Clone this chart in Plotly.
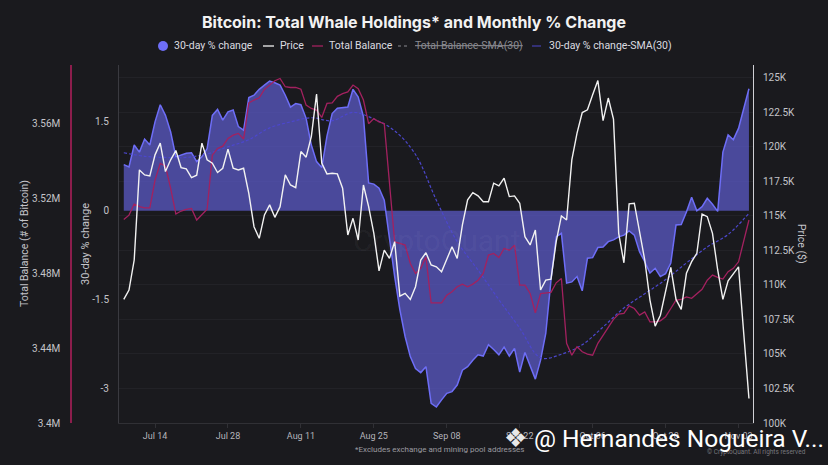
import pandas as pd
import plotly.graph_objects as go

# daily observations, Jul 08 -> Nov 05 2025
dates = pd.date_range("2025-07-08", periods=121, freq="D")
sma_dates = pd.date_range("2025-07-08", periods=31, freq="4D")

pct_change = [
    0.78, 0.74, 1.11, 0.99, 1.21, 1.11, 1.50, 1.79, 1.61, 1.33,
    0.91, 0.94, 0.97, 0.98, 0.83, 0.91, 1.05, 1.61, 1.71, 1.53,
    1.67, 1.70, 1.42, 1.36, 1.91, 1.95, 2.05, 2.12, 2.19, 2.16,
    2.12, 1.95, 1.75, 1.81, 1.79, 1.56, 1.11, 0.83, 0.73, 1.26,
    1.64, 1.73, 1.74, 1.75, 2.05, 1.92, 1.59, 0.47, 0.45, 0.38,
    0.18, -0.49, -1.11, -1.67, -2.12, -2.46, -2.66, -2.73, -2.63, -3.25,
    -3.31, -3.19, -3.08, -3.05, -2.94, -2.69, -2.63, -2.52, -2.43, -2.45,
    -2.26, -2.34, -2.43, -2.30, -2.45, -2.32, -2.72, -2.39, -2.60, -2.84,
    -2.52, -2.07, -1.17, -0.44, -0.38, -1.22, -1.20, -1.11, -1.35, -0.80,
    -0.79, -0.62, -0.61, -0.52, -0.49, -0.44, -0.41, -0.34, -0.41, -0.69,
    -0.86, -1.05, -0.97, -1.11, -1.06, -0.88, -0.24, -0.23, -0.02, 0.23,
    0.00, 0.07, 0.21, 0.11, -0.01, 0.99, 1.28, 1.20, 1.39, 1.71,
    2.06,
]

price_k = [
    108.94, 109.62, 111.79, 118.31, 117.95, 117.88, 119.40, 120.25, 118.19, 119.04,
    119.71, 118.48, 118.38, 117.75, 117.93, 120.25, 119.04, 118.80, 118.12, 118.43,
    119.81, 118.43, 118.31, 118.43, 116.62, 114.20, 113.36, 115.05, 115.78, 114.88,
    115.65, 117.95, 117.22, 117.03, 119.64, 119.23, 120.72, 123.80, 118.80, 118.02,
    118.07, 118.02, 116.99, 113.60, 114.81, 113.24, 117.22, 115.65, 113.72, 111.01,
    112.51, 111.91, 113.12, 109.18, 109.38, 108.94, 109.86, 111.79, 112.32, 111.43,
    111.30, 110.94, 111.84, 112.75, 111.91, 114.33, 116.14, 116.67, 116.43, 116.01,
    116.01, 117.35, 117.15, 117.71, 116.38, 116.43, 115.90, 113.48, 112.88, 113.96,
    109.62, 110.34, 110.41, 113.12, 114.98, 114.69, 119.04, 120.97, 122.46, 122.66,
    123.75, 124.78, 121.88, 123.51, 121.98, 113.72, 111.59, 115.85, 115.90, 113.72,
    111.79, 108.89, 107.01, 107.80, 109.49, 111.26, 108.94, 108.22, 110.83, 111.67,
    112.28, 115.12, 114.93, 113.72, 111.07, 108.94, 110.29, 110.83, 111.30, 106.48,
    101.77,
]

balance_m = [
    3.5086, 3.5109, 3.5168, 3.5154, 3.5148, 3.5148, 3.5296, 3.5385, 3.5371, 3.5252,
    3.5115, 3.5131, 3.5140, 3.5145, 3.5083, 3.5109, 3.5140, 3.5429, 3.5465, 3.5477,
    3.5518, 3.5536, 3.5545, 3.5515, 3.5708, 3.5723, 3.5735, 3.5780, 3.5803, 3.5826,
    3.5838, 3.5794, 3.5790, 3.5790, 3.5781, 3.5696, 3.5678, 3.5669, 3.5630, 3.5705,
    3.5708, 3.5743, 3.5757, 3.5766, 3.5803, 3.5784, 3.5723, 3.5597, 3.5624, 3.5606,
    3.5597, 3.5296, 3.4966, 3.4958, 3.4949, 3.4851, 3.4798, 3.4825, 3.4886, 3.4641,
    3.4641, 3.4641, 3.4682, 3.4700, 3.4727, 3.4741, 3.4727, 3.4741, 3.4762, 3.4798,
    3.4896, 3.4905, 3.4883, 3.4931, 3.4922, 3.4949, 3.4736, 3.4736, 3.4691, 3.4588,
    3.4691, 3.4695, 3.4697, 3.4748, 3.4771, 3.4425, 3.4362, 3.4407, 3.4380, 3.4368,
    3.4362, 3.4425, 3.4469, 3.4513, 3.4553, 3.4581, 3.4585, 3.4625, 3.4611, 3.4576,
    3.4593, 3.4540, 3.4540, 3.4545, 3.4567, 3.4611, 3.4656, 3.4659, 3.4673, 3.4665,
    3.4691, 3.4713, 3.4762, 3.4789, 3.4777, 3.4768, 3.4807, 3.4825, 3.4860, 3.4966,
    3.5083,
]

# 30-day SMA of the % change, read every 4 days
pct_sma = [
    0.98, 0.92, 0.90, 0.90, 0.96, 1.08, 1.20, 1.40, 1.50, 1.57,
    1.52, 1.66, 1.55, 1.35, 0.95, 0.18, -0.52, -1.00, -1.50, -1.98,
    -2.48, -2.42, -2.26, -1.96, -1.64, -1.40, -1.16, -0.88, -0.61, -0.40,
    -0.04,
]

date_ticks = ["2025-07-14", "2025-07-28", "2025-08-11", "2025-08-25", "2025-09-08",
              "2025-09-22", "2025-10-06", "2025-10-20", "2025-11-03"]
pct_ticks = [-3, -1.5, 0, 1.5]
pct_labels = ["-3", "-1.5", "0", "1.5"]
balance_ticks = [3.40, 3.44, 3.48, 3.52, 3.56]
balance_labels = ["3.4M", "3.44M", "3.48M", "3.52M", "3.56M"]
price_ticks = [100, 102.5, 105, 107.5, 110, 112.5, 115, 117.5, 120, 122.5, 125]
price_labels = ["100K", "102.5K", "105K", "107.5K", "110K", "112.5K",
                "115K", "117.5K", "120K", "122.5K", "125K"]

# page geometry (pixels)
W, H = 828, 465
PL, PR, PT, PB = 119, 753, 65, 423
BG = "#1a1a1e"
TXT = "#c4c4c9"
FONT = "Roboto, Inter, sans-serif"

C_PCT = "#6e6ef7"
C_SMA = "#4c47cc"
C_BAL = "#a3215f"
C_PRICE = "#f2f2f2"
C_OFF = "#8a8a90"


def px(x):
    return x / W


def py(y):
    return (PB - y) / (PB - PT)


fig = go.Figure()
fig.add_trace(go.Scatter(
    x=dates, y=pct_change, name="30-day % change", mode="lines",
    line=dict(color=C_PCT, width=1.5), fill="tozeroy",
    fillcolor="rgba(100,98,222,0.65)", yaxis="y"))
fig.add_trace(go.Scatter(
    x=sma_dates, y=pct_sma, name="30-day % change-SMA(30)", mode="lines",
    line=dict(color=C_SMA, width=1.2, dash="3px,2px", shape="spline"),
    yaxis="y"))
fig.add_trace(go.Scatter(
    x=dates, y=balance_m, name="Total Balance", mode="lines",
    line=dict(color=C_BAL, width=1.3), yaxis="y2"))
fig.add_trace(go.Scatter(
    x=dates, y=price_k, name="Price", mode="lines",
    line=dict(color=C_PRICE, width=1.4), yaxis="y3"))

fig.update_layout(
    width=W, height=H,
    margin=dict(l=0, r=0, t=PT, b=H - PB),
    paper_bgcolor=BG, plot_bgcolor=BG,
    font=dict(family=FONT, size=10, color=TXT),
    title=dict(text="<b>Bitcoin: Total Whale Holdings* and Monthly % Change</b>",
               x=0.5, xanchor="center", y=1 - 22 / H, yanchor="middle",
               font=dict(family="Inter, sans-serif", size=16, color="#f2f2f2")),
    showlegend=False,
    xaxis=dict(domain=[px(PL), px(PR)], type="date",
               range=["2025-07-07 02:00", "2025-11-05 18:40"],
               tickvals=date_ticks, tickformat="%b %d",
               showgrid=False, zeroline=False, showline=True, linecolor="#303035",
               ticks="outside", ticklen=4, tickcolor="#303035",
               tickfont=dict(size=9, color="#b4b4ba")),
    yaxis=dict(range=[-3.58, 2.46], tickvals=pct_ticks, ticktext=pct_labels,
               side="left", anchor="x", showgrid=False, zeroline=False,
               showline=True, linecolor="#3a3a40", ticklabelstandoff=7,
               tickfont=dict(size=10, color=TXT)),
    yaxis2=dict(range=[3.4, 3.591], tickvals=balance_ticks, ticktext=balance_labels,
                overlaying="y", anchor="free", position=px(71), side="left",
                showgrid=False, zeroline=False, showline=True,
                linecolor="#8c1d4c", linewidth=1.5, ticklabelstandoff=8,
                tickfont=dict(size=10, color=TXT)),
    yaxis3=dict(range=[100, 125.9], tickvals=price_ticks, ticktext=price_labels,
                overlaying="y", anchor="x", side="right",
                showgrid=True, gridcolor="#222227", zeroline=False,
                showline=True, linecolor="#cfcfd4", ticklabelstandoff=7,
                tickfont=dict(size=10, color=TXT)),
)

# legend row drawn in ECharts style: (symbol, colour, dash, label, left px of symbol)
legend_items = [
    ("dot", C_PCT, None, "30-day % change", 158),
    ("line", C_PRICE, None, "Price", 263),
    ("line", C_BAL, None, "Total Balance", 312),
    ("line", C_OFF, "dot", "Total Balance-SMA(30)", 398),
    ("line", C_SMA, "dash", "30-day % change-SMA(30)", 532),
]
LY = 46
for kind, color, dash, label, x0 in legend_items:
    if kind == "dot":
        fig.add_shape(type="circle", xref="paper", yref="paper",
                      x0=px(x0), x1=px(x0 + 10), y0=py(LY + 5), y1=py(LY - 5),
                      fillcolor=color, line=dict(width=0))
        tx = x0 + 14
    else:
        fig.add_shape(type="line", xref="paper", yref="paper",
                      x0=px(x0), x1=px(x0 + 11), y0=py(LY), y1=py(LY),
                      line=dict(color=color, width=1.3 if dash is None else 1, dash=dash))
        tx = x0 + 15
    off = color == C_OFF
    text = f'<span style="text-decoration:line-through">{label}</span>' if off else label
    fig.add_annotation(xref="paper", yref="paper", x=px(tx), y=py(LY),
                       xanchor="left", yanchor="middle", showarrow=False, text=text,
                       font=dict(size=10.5, color=C_OFF if off else "#dcdce0"))

notes = [
    dict(text="Total Balance (# of Bitcoin)", x=px(24), y=py(244), textangle=-90,
         font=dict(size=10.5, color=TXT)),
    dict(text="30-day % change", x=px(85), y=py(244), textangle=-90,
         font=dict(size=11, color=TXT)),
    dict(text="Price ($)", x=px(802), y=py(244), textangle=90,
         font=dict(size=10.5, color=TXT)),
    dict(text="CryptoQuant", x=px(437), y=py(240),
         font=dict(size=30, color="rgba(255,255,255,0.045)")),
    dict(text="*Excludes exchange and mining pool addresses", x=px(439), y=py(449),
         font=dict(size=8, color="#9a9aa0")),
    dict(text="© CryptoQuant. All rights reserved", x=px(808), y=py(452),
         xanchor="right", font=dict(size=6.5, color="#77777d")),
    dict(text="❖", x=px(515), y=py(438),
         font=dict(family="DejaVu Sans", size=26, color="#e8e8e8")),
    dict(text="@ Hernandes Nogueira V...", x=px(532), y=py(438), xanchor="left",
         font=dict(family="Roboto", size=24.5, color="#ffffff")),
]
for n in notes:
    n.setdefault("xanchor", "center")
    fig.add_annotation(xref="paper", yref="paper", yanchor="middle",
                       showarrow=False, **n)

# drop the browser's default 8px body margin so the figure sits at the page origin
fig.write_html("out.html", config={"displayModeBar": False},
               post_script="document.body.style.margin='0';")
